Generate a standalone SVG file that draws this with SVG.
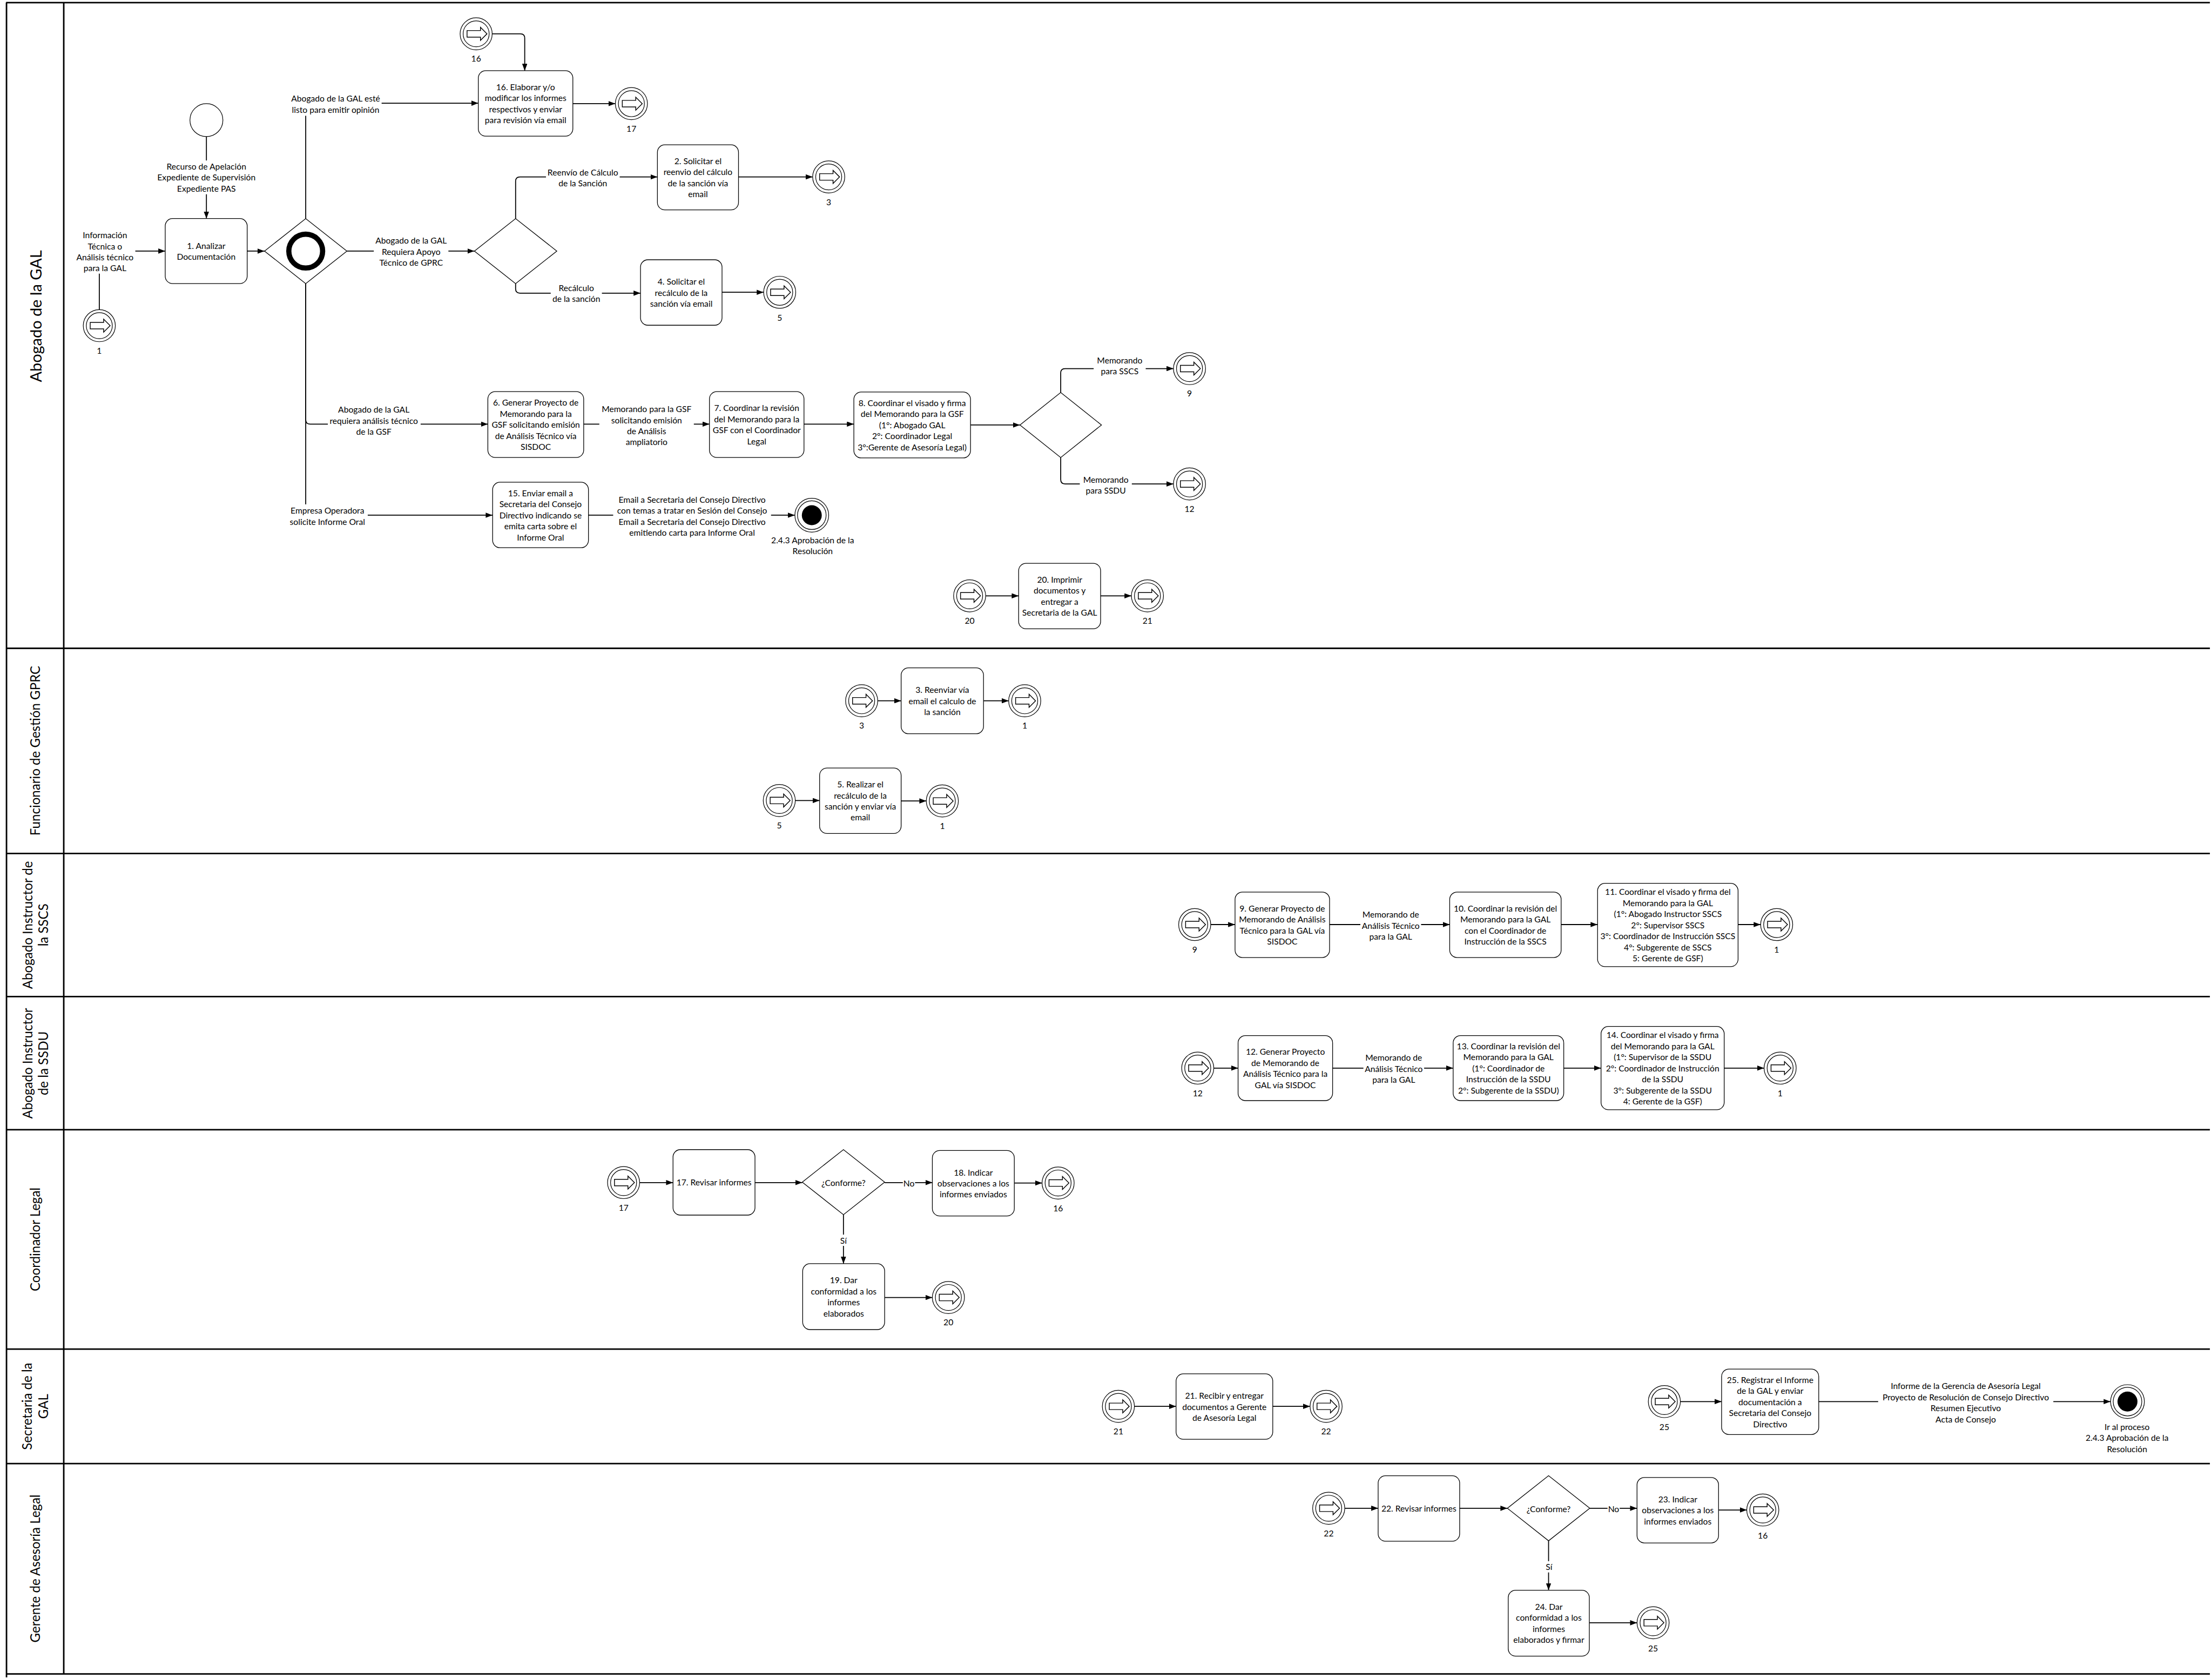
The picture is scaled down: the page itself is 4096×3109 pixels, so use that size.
<svg xmlns="http://www.w3.org/2000/svg" xmlns:xlink="http://www.w3.org/1999/xlink" width="4096" height="3109" viewBox="0 0 4096 3109">
<style>
.pool{fill:none;stroke:#000;stroke-width:3.5}
.task{fill:#fff;stroke:#000;stroke-width:1.6}
.gw{fill:#fff;stroke:#000;stroke-width:1.6}
.flow{fill:none;stroke:#000;stroke-width:2.2;marker-end:url(#ah)}
.bg{fill:#fff}
.t{font-family:Lato,"Liberation Sans",sans-serif;font-size:19.5px;text-anchor:middle;dominant-baseline:central;fill:#000}
.lane-t{font-family:Lato,"Liberation Sans",sans-serif;font-size:30px;text-anchor:middle;dominant-baseline:central;fill:#000}
.ring{fill:#fff;stroke:#000;stroke-width:1.5}
</style>
<defs>
<marker id="ah" viewBox="0 0 16 12" refX="16" refY="6" markerWidth="16" markerHeight="12" markerUnits="userSpaceOnUse" orient="auto"><path d="M0,0 L16,6 L0,12 z" fill="#000"/></marker>
<g id="link">
<circle r="37" class="ring"/>
<circle r="30" class="ring"/>
<path d="M-21,-7.5 H10 V-15 L25,0 L10,15 V7.5 H-21 Z" fill="#fff" stroke="#000" stroke-width="1.8" stroke-linejoin="miter"/>
</g>
</defs>
<rect width="4096" height="3109" fill="#fff"/>
<g transform="scale(0.803)">

<!-- pool frame and swimlanes -->
<g id="lanes">
<path class="pool" d="M14,6 H5096 M15,6 V3868 M147,6 V3860 M15,1495 H5096 M15,1968 H5096 M15,2298 H5096 M15,2605 H5096 M15,3111 H5096 M15,3375 H5096 M15,3860 H5096"/>
<text class="lane-t" style="font-size:36px" transform="translate(82,729) rotate(-90)">Abogado de la GAL</text>
<text class="lane-t" transform="translate(80,1731) rotate(-90)">Funcionario de Gestión GPRC</text>
<text class="lane-t" transform="translate(80.5,2133) rotate(-90)"><tspan x="0" y="-18.5">Abogado Instructor de</tspan><tspan x="0" y="18.5">la SSCS</tspan></text>
<text class="lane-t" transform="translate(80.5,2452) rotate(-90)"><tspan x="0" y="-18.5">Abogado Instructor</tspan><tspan x="0" y="18.5">de la SSDU</tspan></text>
<text class="lane-t" transform="translate(80,2858) rotate(-90)">Coordinador Legal</text>
<text class="lane-t" transform="translate(80,3243) rotate(-90)"><tspan x="0" y="-18.5">Secretaria de la</tspan><tspan x="0" y="18.5">GAL</tspan></text>
<text class="lane-t" transform="translate(80,3617) rotate(-90)">Gerente de Asesoría Legal</text>
</g>

<!-- sequence flows -->
<g id="connectors">
<path class="flow" d="M476,315 V504"/>
<path class="flow" d="M229,714 V579 H381"/>
<path class="flow" d="M570,579 H610"/>
<path class="flow" d="M705,504 V238 H1103"/>
<path class="flow" d="M800,579 H1094"/>
<path class="flow" d="M1189,504 V418 Q1189,408 1199,408 H1516"/>
<path class="flow" d="M1703,408 H1874"/>
<path class="flow" d="M1189,654 V666 Q1189,676 1199,676 H1477"/>
<path class="flow" d="M1665,674 H1761"/>
<path class="flow" d="M1135,78 H1200 Q1210,78 1210,88 V163"/>
<path class="flow" d="M1321,239 H1419"/>
<path class="flow" d="M705,654 V968 Q705,978 715,978 H1125"/>
<path class="flow" d="M705,654 V1188 H1136"/>
<path class="flow" d="M1346,978 H1636"/>
<path class="flow" d="M1854,978 H1969"/>
<path class="flow" d="M2238,980 H2352"/>
<path class="flow" d="M2446,905 V860 Q2446,850 2456,850 H2706"/>
<path class="flow" d="M2446,1055 V1106 Q2446,1116 2456,1116 H2706"/>
<path class="flow" d="M1357,1188 H1833"/>
<path class="flow" d="M2273,1374 H2349"/>
<path class="flow" d="M2538,1374 H2609"/>
<path class="flow" d="M2024,1616 H2078"/>
<path class="flow" d="M2268,1616 H2326"/>
<path class="flow" d="M1834,1846 H1890"/>
<path class="flow" d="M2078,1847 H2136"/>
<path class="flow" d="M2792,2132 H2848"/>
<path class="flow" d="M3066,2132 H3343"/>
<path class="flow" d="M3600,2132 H3684"/>
<path class="flow" d="M4008,2132 H4060"/>
<path class="flow" d="M2799,2463 H2855"/>
<path class="flow" d="M3073,2463 H3351"/>
<path class="flow" d="M3606,2463 H3692"/>
<path class="flow" d="M3976,2463 H4068"/>
<path class="flow" d="M1475,2727 H1552"/>
<path class="flow" d="M1741,2727 H1850"/>
<path class="flow" d="M2040,2727 H2150"/>
<path class="flow" d="M2339,2728 H2403"/>
<path class="flow" d="M1945,2801 V2914"/>
<path class="flow" d="M2040,2992 H2150"/>
<path class="flow" d="M2616,3243 H2712"/>
<path class="flow" d="M2935,3243 H3021"/>
<path class="flow" d="M3875,3232 H3970"/>
<path class="flow" d="M4194,3232 H4867"/>
<path class="flow" d="M3101,3478 H3178"/>
<path class="flow" d="M3366,3478 H3476"/>
<path class="flow" d="M3666,3478 H3775"/>
<path class="flow" d="M3963,3482 H4028"/>
<path class="flow" d="M3571,3553 V3667"/>
<path class="flow" d="M3665,3742 H3775"/>

<!-- flow labels -->
<rect class="bg" x="358" y="370" width="236" height="78"/>
<text class="t" x="476" y="383.5"><tspan x="476">Recurso de Apelación</tspan><tspan x="476" dy="25.5">Expediente de Supervisión</tspan><tspan x="476" dy="25.5">Expediente PAS</tspan></text>
<rect class="bg" x="172" y="529" width="140" height="102"/>
<text class="t" x="242" y="541.75"><tspan x="242">Información</tspan><tspan x="242" dy="25.5">Técnica o</tspan><tspan x="242" dy="25.5">Análisis técnico</tspan><tspan x="242" dy="25.5">para la GAL</tspan></text>
<rect class="bg" x="668" y="213" width="212" height="54"/>
<text class="t" x="774" y="227.25"><tspan x="774">Abogado de la GAL esté</tspan><tspan x="774" dy="25.5">listo para emitir opinión</tspan></text>
<rect class="bg" x="862" y="541" width="172" height="78"/>
<text class="t" x="948" y="554.5"><tspan x="948">Abogado de la GAL</tspan><tspan x="948" dy="25.5">Requiera Apoyo</tspan><tspan x="948" dy="25.5">Técnico de GPRC</tspan></text>
<rect class="bg" x="1259" y="383" width="170" height="54"/>
<text class="t" x="1344" y="397.25"><tspan x="1344">Reenvío de Cálculo</tspan><tspan x="1344" dy="25.5">de la Sanción</tspan></text>
<rect class="bg" x="1270" y="649" width="118" height="54"/>
<text class="t" x="1329" y="663.25"><tspan x="1329">Recálculo</tspan><tspan x="1329" dy="25.5">de la sanción</tspan></text>
<rect class="bg" x="756" y="931" width="214" height="78"/>
<text class="t" x="862" y="944.5"><tspan x="862">Abogado de la GAL</tspan><tspan x="862" dy="25.5">requiera análisis técnico</tspan><tspan x="862" dy="25.5">de la GSF</tspan></text>
<rect class="bg" x="664" y="1163" width="184" height="54"/>
<text class="t" x="755" y="1177.25"><tspan x="755">Empresa Operadora</tspan><tspan x="755" dy="25.5">solicite Informe Oral</tspan></text>
<rect class="bg" x="1382" y="929" width="218" height="104"/>
<text class="t" x="1491" y="942.75"><tspan x="1491">Memorando para la GSF</tspan><tspan x="1491" dy="25.5">solicitando emisión</tspan><tspan x="1491" dy="25.5">de Análisis</tspan><tspan x="1491" dy="25.5">ampliatorio</tspan></text>
<rect class="bg" x="2522" y="816" width="120" height="54"/>
<text class="t" x="2582" y="830.25"><tspan x="2582">Memorando</tspan><tspan x="2582" dy="25.5">para SSCS</tspan></text>
<rect class="bg" x="2490" y="1091" width="120" height="54"/>
<text class="t" x="2550" y="1105.25"><tspan x="2550">Memorando</tspan><tspan x="2550" dy="25.5">para SSDU</tspan></text>
<rect class="bg" x="1414" y="1138" width="364" height="104"/>
<text class="t" x="1596" y="1151.75"><tspan x="1596">Email a Secretaria del Consejo Directivo</tspan><tspan x="1596" dy="25.5">con temas a tratar en Sesión del Consejo</tspan><tspan x="1596" dy="25.5">Email a Secretaria del Consejo Directivo</tspan><tspan x="1596" dy="25.5">emitiendo  carta para Informe Oral</tspan></text>
<rect class="bg" x="3137" y="2095" width="140" height="78"/>
<text class="t" x="3207" y="2108.5"><tspan x="3207">Memorando de</tspan><tspan x="3207" dy="25.5">Análisis Técnico</tspan><tspan x="3207" dy="25.5">para la GAL</tspan></text>
<rect class="bg" x="3144" y="2425" width="140" height="78"/>
<text class="t" x="3214" y="2438.5"><tspan x="3214">Memorando de</tspan><tspan x="3214" dy="25.5">Análisis Técnico</tspan><tspan x="3214" dy="25.5">para la GAL</tspan></text>
<rect class="bg" x="2082" y="2715" width="28" height="26"/>
<text class="t" x="2096" y="2728">No</text>
<rect class="bg" x="1933" y="2847" width="24" height="26"/>
<text class="t" x="1945" y="2860">Sí</text>
<rect class="bg" x="4331" y="3182" width="404" height="104"/>
<text class="t" x="4533" y="3195.75"><tspan x="4533">Informe de la Gerencia de Asesoría Legal</tspan><tspan x="4533" dy="25.5">Proyecto de Resolución de Consejo Directivo</tspan><tspan x="4533" dy="25.5">Resumen Ejecutivo</tspan><tspan x="4533" dy="25.5">Acta de Consejo</tspan></text>
<rect class="bg" x="3707" y="3467" width="28" height="26"/>
<text class="t" x="3721" y="3480">No</text>
<rect class="bg" x="3560" y="3600" width="24" height="26"/>
<text class="t" x="3572" y="3613">Sí</text>
</g>

<!-- start and end events -->
<g id="start"><circle cx="476" cy="277" r="38" class="ring"/></g>
<g id="end-243">
<circle cx="1872" cy="1188" r="39" class="ring"/><circle cx="1872" cy="1188" r="33" class="ring"/><circle cx="1872" cy="1188" r="23" fill="#000"/>
<text class="t" x="1874" y="1245"><tspan x="1874">2.4.3 Aprobación de la</tspan><tspan x="1874" dy="25.5">Resolución</tspan></text>
</g>
<g id="end-proceso">
<circle cx="4906" cy="3232" r="39" class="ring"/><circle cx="4906" cy="3232" r="33" class="ring"/><circle cx="4906" cy="3232" r="23" fill="#000"/>
<text class="t" x="4905" y="3290"><tspan x="4905">Ir al proceso</tspan><tspan x="4905" dy="25.5">2.4.3 Aprobación de la</tspan><tspan x="4905" dy="25.5">Resolución</tspan></text>
</g>

<!-- gateways -->
<g id="gw-inclusive">
<polygon class="gw" points="610,579 705,504 800,579 705,654"/>
<circle cx="705" cy="579" r="39" fill="none" stroke="#000" stroke-width="12"/>
</g>
<g id="gw-apoyo"><polygon class="gw" points="1094,579 1189,504 1284,579 1189,654"/></g>
<g id="gw-memorando"><polygon class="gw" points="2352,980 2446,905 2540,980 2446,1055"/></g>
<g id="gw-conforme-coord"><polygon class="gw" points="1850,2726 1945,2651 2040,2726 1945,2801"/><text class="t" x="1945" y="2727">¿Conforme?</text></g>
<g id="gw-conforme-ger"><polygon class="gw" points="3476,3478 3571,3403 3666,3478 3571,3553"/><text class="t" x="3571" y="3479">¿Conforme?</text></g>

<!-- tasks -->
<g id="task-1"><rect class="task" x="381" y="504" width="189" height="150" rx="17"/><text class="t" x="475.5" y="566.25"><tspan x="475.5">1. Analizar</tspan><tspan x="475.5" dy="25.5">Documentación</tspan></text></g>
<g id="task-16"><rect class="task" x="1103" y="163" width="218" height="151" rx="17"/><text class="t" x="1212" y="200.25"><tspan x="1212">16. Elaborar y/o</tspan><tspan x="1212" dy="25.5">modificar los informes</tspan><tspan x="1212" dy="25.5">respectivos y enviar</tspan><tspan x="1212" dy="25.5">para revisión vía email</tspan></text></g>
<g id="task-2"><rect class="task" x="1516" y="334" width="187" height="150" rx="17"/><text class="t" x="1609.5" y="370.75"><tspan x="1609.5">2. Solicitar el</tspan><tspan x="1609.5" dy="25.5">reenvio del cálculo</tspan><tspan x="1609.5" dy="25.5">de la sanción vía</tspan><tspan x="1609.5" dy="25.5">email</tspan></text></g>
<g id="task-4"><rect class="task" x="1477" y="599" width="188" height="151" rx="17"/><text class="t" x="1571" y="649"><tspan x="1571">4. Solicitar el</tspan><tspan x="1571" dy="25.5">recálculo de la</tspan><tspan x="1571" dy="25.5">sanción vía email</tspan></text></g>
<g id="task-6"><rect class="task" x="1125" y="903" width="221" height="152" rx="17"/><text class="t" x="1235.5" y="928"><tspan x="1235.5">6. Generar Proyecto de</tspan><tspan x="1235.5" dy="25.5">Memorando para la</tspan><tspan x="1235.5" dy="25.5">GSF solicitando emisión</tspan><tspan x="1235.5" dy="25.5">de Análisis Técnico vía</tspan><tspan x="1235.5" dy="25.5">SISDOC</tspan></text></g>
<g id="task-7"><rect class="task" x="1636" y="903" width="218" height="152" rx="17"/><text class="t" x="1745" y="940.75"><tspan x="1745">7. Coordinar la revisión</tspan><tspan x="1745" dy="25.5">del Memorando para la</tspan><tspan x="1745" dy="25.5">GSF con el Coordinador</tspan><tspan x="1745" dy="25.5">Legal</tspan></text></g>
<g id="task-8"><rect class="task" x="1969" y="904" width="269" height="152" rx="17"/><text class="t" x="2103.5" y="929"><tspan x="2103.5">8. Coordinar el visado y firma</tspan><tspan x="2103.5" dy="25.5">del Memorando para la GSF</tspan><tspan x="2103.5" dy="25.5">(1°: Abogado GAL</tspan><tspan x="2103.5" dy="25.5">2°: Coordinador Legal</tspan><tspan x="2103.5" dy="25.5">3°:Gerente de Asesoría Legal)</tspan></text></g>
<g id="task-15"><rect class="task" x="1136" y="1112" width="221" height="151" rx="17"/><text class="t" x="1246.5" y="1136.5"><tspan x="1246.5">15. Enviar email a</tspan><tspan x="1246.5" dy="25.5">Secretaria del Consejo</tspan><tspan x="1246.5" dy="25.5">Directivo indicando se</tspan><tspan x="1246.5" dy="25.5">emita carta sobre el</tspan><tspan x="1246.5" dy="25.5">Informe Oral</tspan></text></g>
<g id="task-20"><rect class="task" x="2349" y="1299" width="189" height="151" rx="17"/><text class="t" x="2443.5" y="1336.25"><tspan x="2443.5">20. Imprimir</tspan><tspan x="2443.5" dy="25.5">documentos y</tspan><tspan x="2443.5" dy="25.5">entregar a</tspan><tspan x="2443.5" dy="25.5">Secretaria de la GAL</tspan></text></g>
<g id="task-3"><rect class="task" x="2078" y="1540" width="190" height="152" rx="17"/><text class="t" x="2173" y="1590.5"><tspan x="2173">3. Reenviar vía</tspan><tspan x="2173" dy="25.5">email el calculo de</tspan><tspan x="2173" dy="25.5">la sanción</tspan></text></g>
<g id="task-5"><rect class="task" x="1890" y="1771" width="188" height="151" rx="17"/><text class="t" x="1984" y="1808.25"><tspan x="1984">5. Realizar el</tspan><tspan x="1984" dy="25.5">recálculo de la</tspan><tspan x="1984" dy="25.5">sanción y enviar vía</tspan><tspan x="1984" dy="25.5">email</tspan></text></g>
<g id="task-9"><rect class="task" x="2848" y="2057" width="218" height="151" rx="17"/><text class="t" x="2957" y="2094.25"><tspan x="2957">9. Generar Proyecto de</tspan><tspan x="2957" dy="25.5">Memorando de Análisis</tspan><tspan x="2957" dy="25.5">Técnico para la GAL vía</tspan><tspan x="2957" dy="25.5">SISDOC</tspan></text></g>
<g id="task-10"><rect class="task" x="3343" y="2057" width="257" height="151" rx="17"/><text class="t" x="3471.5" y="2094.25"><tspan x="3471.5">10. Coordinar la revisión del</tspan><tspan x="3471.5" dy="25.5">Memorando para la GAL</tspan><tspan x="3471.5" dy="25.5">con el Coordinador de</tspan><tspan x="3471.5" dy="25.5">Instrucción de la SSCS</tspan></text></g>
<g id="task-11"><rect class="task" x="3684" y="2037" width="324" height="192" rx="17"/><text class="t" x="3846" y="2056.5"><tspan x="3846">11. Coordinar el visado y firma del</tspan><tspan x="3846" dy="25.5">Memorando para la GAL</tspan><tspan x="3846" dy="25.5">(1°: Abogado Instructor SSCS</tspan><tspan x="3846" dy="25.5">2°: Supervisor SSCS</tspan><tspan x="3846" dy="25.5">3°: Coordinador de Instrucción SSCS</tspan><tspan x="3846" dy="25.5">4°: Subgerente de SSCS</tspan><tspan x="3846" dy="25.5">5: Gerente de GSF)</tspan></text></g>
<g id="task-12"><rect class="task" x="2855" y="2388" width="218" height="150" rx="17"/><text class="t" x="2964" y="2424.75"><tspan x="2964">12. Generar Proyecto</tspan><tspan x="2964" dy="25.5">de Memorando de</tspan><tspan x="2964" dy="25.5">Análisis Técnico para la</tspan><tspan x="2964" dy="25.5">GAL vía SISDOC</tspan></text></g>
<g id="task-13"><rect class="task" x="3351" y="2388" width="255" height="150" rx="17"/><text class="t" x="3478.5" y="2412"><tspan x="3478.5">13. Coordinar la revisión del</tspan><tspan x="3478.5" dy="25.5">Memorando para la GAL</tspan><tspan x="3478.5" dy="25.5">(1°: Coordinador de</tspan><tspan x="3478.5" dy="25.5">Instrucción de la SSDU</tspan><tspan x="3478.5" dy="25.5">2°: Subgerente de la SSDU)</tspan></text></g>
<g id="task-14"><rect class="task" x="3692" y="2367" width="284" height="192" rx="17"/><text class="t" x="3834" y="2386.5"><tspan x="3834">14. Coordinar el visado y firma</tspan><tspan x="3834" dy="25.5">del Memorando para la GAL</tspan><tspan x="3834" dy="25.5">(1°: Supervisor de la SSDU</tspan><tspan x="3834" dy="25.5">2°: Coordinador de Instrucción</tspan><tspan x="3834" dy="25.5">de la SSDU</tspan><tspan x="3834" dy="25.5">3°: Subgerente de la SSDU</tspan><tspan x="3834" dy="25.5">4: Gerente de la GSF)</tspan></text></g>
<g id="task-17"><rect class="task" x="1552" y="2651" width="189" height="151" rx="17"/><text class="t" x="1646.5" y="2726.5">17. Revisar informes</text></g>
<g id="task-18"><rect class="task" x="2150" y="2653" width="189" height="151" rx="17"/><text class="t" x="2244.5" y="2703"><tspan x="2244.5">18. Indicar</tspan><tspan x="2244.5" dy="25.5">observaciones a los</tspan><tspan x="2244.5" dy="25.5">informes enviados</tspan></text></g>
<g id="task-19"><rect class="task" x="1851" y="2914" width="189" height="152" rx="17"/><text class="t" x="1945.5" y="2951.75"><tspan x="1945.5">19. Dar</tspan><tspan x="1945.5" dy="25.5">conformidad a los</tspan><tspan x="1945.5" dy="25.5">informes</tspan><tspan x="1945.5" dy="25.5">elaborados</tspan></text></g>
<g id="task-21"><rect class="task" x="2712" y="3168" width="223" height="151" rx="17"/><text class="t" x="2823.5" y="3218"><tspan x="2823.5">21. Recibir y entregar</tspan><tspan x="2823.5" dy="25.5">documentos a Gerente</tspan><tspan x="2823.5" dy="25.5">de Asesoría Legal</tspan></text></g>
<g id="task-25"><rect class="task" x="3970" y="3157" width="224" height="151" rx="17"/><text class="t" x="4082" y="3181.5"><tspan x="4082">25. Registrar el Informe</tspan><tspan x="4082" dy="25.5">de la GAL y enviar</tspan><tspan x="4082" dy="25.5">documentación a</tspan><tspan x="4082" dy="25.5">Secretaria del Consejo</tspan><tspan x="4082" dy="25.5">Directivo</tspan></text></g>
<g id="task-22"><rect class="task" x="3178" y="3403" width="188" height="151" rx="17"/><text class="t" x="3272" y="3478.5">22. Revisar informes</text></g>
<g id="task-23"><rect class="task" x="3775" y="3407" width="188" height="151" rx="17"/><text class="t" x="3869" y="3457"><tspan x="3869">23. Indicar</tspan><tspan x="3869" dy="25.5">observaciones a los</tspan><tspan x="3869" dy="25.5">informes enviados</tspan></text></g>
<g id="task-24"><rect class="task" x="3478" y="3667" width="187" height="152" rx="17"/><text class="t" x="3571.5" y="3704.75"><tspan x="3571.5">24. Dar</tspan><tspan x="3571.5" dy="25.5">conformidad a los</tspan><tspan x="3571.5" dy="25.5">informes</tspan><tspan x="3571.5" dy="25.5">elaborados y firmar</tspan></text></g>

<!-- link events -->
<g id="ev-16a"><use xlink:href="#link" x="1098" y="78"/><text class="t" x="1098" y="135">16</text></g>
<g id="ev-17a"><use xlink:href="#link" x="1456" y="239"/><text class="t" x="1456" y="296">17</text></g>
<g id="ev-3a"><use xlink:href="#link" x="1911" y="408"/><text class="t" x="1911" y="466">3</text></g>
<g id="ev-5a"><use xlink:href="#link" x="1798" y="674"/><text class="t" x="1798" y="732">5</text></g>
<g id="ev-1a"><use xlink:href="#link" x="229" y="751"/><text class="t" x="229" y="808">1</text></g>
<g id="ev-9a"><use xlink:href="#link" x="2743" y="850"/><text class="t" x="2743" y="907">9</text></g>
<g id="ev-12a"><use xlink:href="#link" x="2743" y="1116"/><text class="t" x="2743" y="1173">12</text></g>
<g id="ev-20a"><use xlink:href="#link" x="2236" y="1374"/><text class="t" x="2236" y="1431">20</text></g>
<g id="ev-21a"><use xlink:href="#link" x="2646" y="1374"/><text class="t" x="2646" y="1431">21</text></g>
<g id="ev-3b"><use xlink:href="#link" x="1987" y="1616"/><text class="t" x="1987" y="1673">3</text></g>
<g id="ev-1b"><use xlink:href="#link" x="2363" y="1616"/><text class="t" x="2363" y="1673">1</text></g>
<g id="ev-5b"><use xlink:href="#link" x="1797" y="1846"/><text class="t" x="1797" y="1903">5</text></g>
<g id="ev-1c"><use xlink:href="#link" x="2173" y="1847"/><text class="t" x="2173" y="1904">1</text></g>
<g id="ev-9b"><use xlink:href="#link" x="2755" y="2132"/><text class="t" x="2755" y="2189">9</text></g>
<g id="ev-1d"><use xlink:href="#link" x="4097" y="2132"/><text class="t" x="4097" y="2189">1</text></g>
<g id="ev-12b"><use xlink:href="#link" x="2762" y="2463"/><text class="t" x="2762" y="2520">12</text></g>
<g id="ev-1e"><use xlink:href="#link" x="4105" y="2463"/><text class="t" x="4105" y="2521">1</text></g>
<g id="ev-17b"><use xlink:href="#link" x="1438" y="2727"/><text class="t" x="1438" y="2784">17</text></g>
<g id="ev-16b"><use xlink:href="#link" x="2440" y="2728"/><text class="t" x="2440" y="2786">16</text></g>
<g id="ev-20b"><use xlink:href="#link" x="2187" y="2992"/><text class="t" x="2187" y="3048">20</text></g>
<g id="ev-21b"><use xlink:href="#link" x="2579" y="3243"/><text class="t" x="2579" y="3300">21</text></g>
<g id="ev-22a"><use xlink:href="#link" x="3058" y="3243"/><text class="t" x="3058" y="3300">22</text></g>
<g id="ev-25a"><use xlink:href="#link" x="3838" y="3232"/><text class="t" x="3838" y="3290">25</text></g>
<g id="ev-22b"><use xlink:href="#link" x="3064" y="3478"/><text class="t" x="3064" y="3536">22</text></g>
<g id="ev-16c"><use xlink:href="#link" x="4065" y="3482"/><text class="t" x="4065" y="3541">16</text></g>
<g id="ev-25b"><use xlink:href="#link" x="3812" y="3742"/><text class="t" x="3812" y="3801">25</text></g>
</g>
</svg>
